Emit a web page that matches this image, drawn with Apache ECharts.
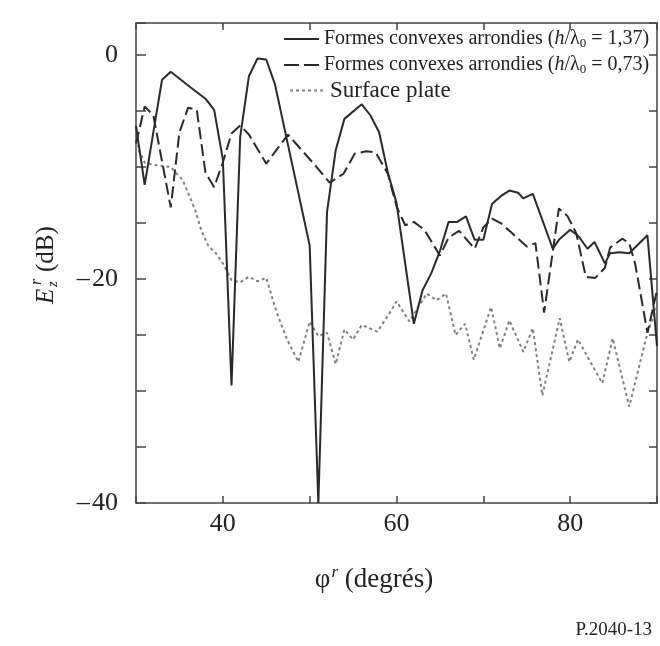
<!DOCTYPE html>
<html><head><meta charset="utf-8">
<script src="https://cdn.jsdelivr.net/npm/echarts@6/dist/echarts.min.js"></script>
<style>html,body{margin:0;padding:0;background:#fff}#c{width:660px;height:646px}</style>
</head><body><div id="c"></div>
<script>
// ---- data ----
const solidDeg = [30,31,33,34,36.3,38,39,40,41,42,43,44,45,46,50,51,52,53,54,56,57,58,59,60,62,63,64,65,66,67,68,69,70,71,72,73,74,74.6,75.7,78,78.7,80,81,82,82.8,84,84.6,85.7,86.8,88.9,90];
const solidDb = [-6.3,-11.6,-2.2,-1.5,-2.9,-3.9,-4.9,-9.3,-29.5,-7.3,-1.9,-0.3,-0.4,-2.6,-17,-40,-14,-8.5,-5.7,-4.4,-5.4,-6.9,-10.5,-13.2,-24,-21,-19.5,-17.5,-14.9,-14.9,-14.4,-16.5,-16.5,-13.3,-12.6,-12.1,-12.3,-12.8,-12.4,-17.3,-16.5,-15.6,-16.2,-17.3,-16.7,-18.6,-17.7,-17.6,-17.7,-16.1,-26];
const dashDeg = [30,31,32,34,35,36,37,38,39,40,41,42,43,45,47.5,50.8,52.3,53.9,55.2,56.5,57.6,59,60,61,62,63.2,65,66,67.2,69,70,71,72,73.3,75,76,77,78.7,79.7,80.7,81.8,82.9,84,84.6,86,86.8,87.5,88.9,90];
const dashDb = [-7.9,-4.6,-5.4,-13.6,-6.9,-4.7,-4.9,-10.5,-11.8,-9.6,-7,-6.3,-7.1,-9.7,-7.1,-10,-11.4,-10.6,-8.8,-8.6,-8.7,-10.6,-13.5,-15.2,-14.9,-15.6,-17.9,-16.3,-15.7,-17.3,-15.4,-14.6,-15,-15.9,-17.1,-16.8,-23,-13.7,-14.4,-15.9,-19.8,-19.9,-19,-17.2,-16.4,-16.8,-18.7,-24.8,-21];
const dotDeg = [30,31,32,34,35.4,36.8,37.5,38.3,39.2,40,41,42,43,44,45,46.2,47.4,48.7,50,51,52,53,54,55,56,57.8,59.4,60,61.5,62.4,63.5,64.6,65.7,66.8,67.9,68.9,70.9,71.9,73,74.6,75.7,76.8,78.8,79.9,80.9,83.7,84.9,86.8,88.9,90];
const dotDb = [-8,-9.6,-9.8,-10,-11.2,-13.8,-15.6,-17,-17.7,-18.6,-20.1,-20.3,-19.8,-20.2,-19.9,-23,-25.4,-27.4,-23.8,-25.1,-24.8,-27.6,-24.5,-25.4,-24.1,-24.7,-22.8,-22,-23.8,-22.6,-21.3,-21.9,-21.3,-25,-24,-27.2,-22.5,-26.2,-23.7,-26.5,-24.4,-30.4,-23.5,-27.4,-25.4,-29.3,-25.3,-31.4,-24.8,-22.5];
const seriesNames = ['Formes convexes arrondies (h/λ0 = 1,37)', 'Formes convexes arrondies (h/λ0 = 0,73)', 'Surface plate'];
const xTickLabels = [40, 60, 80];
const yTickLabels = [0, -20, -40];

const FONT = "'Liberation Serif','Times New Roman',serif";
const INK = '#222';
const zip = (xs, ys) => xs.map((x, i) => [x, ys[i]]);

const chart = echarts.init(document.getElementById('c'), null, {renderer: 'canvas'});
const axLine = {onZero: false, lineStyle: {color: '#444', width: 1.5}};
const richLeg = {
  i: {fontStyle: 'italic', fontSize: 20, fontFamily: FONT, color: INK},
  s: {fontSize: 13, fontFamily: FONT, color: INK, padding: [9, 0, 0, 0]}
};
function legFmt(name) {
  if (name === seriesNames[0]) return 'Formes convexes arrondies ({i|h}/λ{s|0} = 1,37)';
  if (name === seriesNames[1]) return 'Formes convexes arrondies ({i|h}/λ{s|0} = 0,73)';
  return name;
}
function mkLegend(name, left, top, fs, dash) {
  const leg = {
    data: [name], left: left, top: top, padding: 0, itemWidth: 35, itemHeight: 14,
    selectedMode: false, formatter: legFmt,
    itemStyle: {opacity: 0},
    textStyle: {fontFamily: FONT, fontSize: fs, color: INK, rich: richLeg}
  };
  if (dash) leg.lineStyle = {type: dash};
  return leg;
}

chart.setOption({
  animation: false,
  backgroundColor: '#fff',
  grid: {left: 136, right: 1, top: 23, bottom: 143, containLabel: false},
  legend: [
    mkLegend(seriesNames[0], 283, 29, 20),
    mkLegend(seriesNames[1], 283, 55, 20, [15, 5]),
    mkLegend(seriesNames[2], 289, 79, 23)
  ],
  xAxis: [
    {type: 'value', min: 30, max: 90, interval: 10, position: 'bottom',
     axisLine: axLine, splitLine: {show: false},
     axisTick: {inside: true, length: 7, lineStyle: {color: '#444', width: 1.5}},
     axisLabel: {margin: 8, fontFamily: FONT, fontSize: 26, color: INK,
       formatter: v => xTickLabels.indexOf(v) >= 0 ? String(v) : ''}},
    {type: 'value', min: 30, max: 90, interval: 10, position: 'top',
     axisLine: axLine, splitLine: {show: false},
     axisTick: {inside: true, length: 7, lineStyle: {color: '#444', width: 1.5}},
     axisLabel: {show: false}}
  ],
  yAxis: [
    {type: 'value', min: -40, max: 2.86, interval: 5, position: 'left',
     axisLine: axLine, splitLine: {show: false},
     axisTick: {inside: true, length: 10, lineStyle: {color: '#444', width: 1.5}},
     axisLabel: {margin: 18, fontFamily: FONT, fontSize: 26, color: INK,
       formatter: v => yTickLabels.indexOf(v) >= 0 ? (v < 0 ? '\u2013\u200a' + (-v) : String(v)) : ''}},
    {type: 'value', min: -40, max: 2.86, interval: 5, position: 'right',
     axisLine: axLine, splitLine: {show: false},
     axisTick: {inside: true, length: 8, lineStyle: {color: '#444', width: 1.5}},
     axisLabel: {show: false}}
  ],
  series: [
    {name: seriesNames[0], type: 'line', data: zip(solidDeg, solidDb), symbol: 'none',
     color: '#2a2a2a', lineStyle: {color: '#2a2a2a', width: 2}, z: 4},
    {name: seriesNames[1], type: 'line', data: zip(dashDeg, dashDb), symbol: 'none',
     color: '#2a2a2a', lineStyle: {color: '#2a2a2a', width: 2, type: [12, 5]}, z: 3},
    {name: seriesNames[2], type: 'line', data: zip(dotDeg, dotDb), symbol: 'none',
     color: '#808080', lineStyle: {color: '#808080', width: 2, type: [3, 3]}, z: 2}
  ],
  graphic: [
    {type: 'text', x: 374, y: 580, style: {
      text: '{a|φ}{s|r}{a| (degrés)}', textAlign: 'center', textVerticalAlign: 'middle',
      rich: {a: {fontSize: 27, fontFamily: FONT, fill: INK},
             s: {fontSize: 17, fontStyle: 'italic', fontFamily: FONT, fill: INK, padding: [0, 0, 15, 1]}}}},
    {type: 'group', x: 46, y: 304, rotation: Math.PI / 2, children: [
      {type: 'text', x: 0, y: 0, style: {text: 'E', fontSize: 25, fontStyle: 'italic', fontFamily: FONT, fill: INK, textAlign: 'left', textVerticalAlign: 'middle'}},
      {type: 'text', x: 17, y: 7, style: {text: 'z', fontSize: 15, fontStyle: 'italic', fontFamily: FONT, fill: INK, textAlign: 'left', textVerticalAlign: 'middle'}},
      {type: 'text', x: 19, y: -9, style: {text: 'r', fontSize: 16, fontStyle: 'italic', fontFamily: FONT, fill: INK, textAlign: 'left', textVerticalAlign: 'middle'}},
      {type: 'text', x: 32, y: 0, style: {text: '(dB)', fontSize: 25, fontFamily: FONT, fill: INK, textAlign: 'left', textVerticalAlign: 'middle'}}
    ]},
    {type: 'text', x: 652, y: 630, style: {text: 'P.2040-13', fontSize: 19, fontFamily: FONT, fill: INK, textAlign: 'right', textVerticalAlign: 'middle'}}
  ]
});
</script></body></html>
